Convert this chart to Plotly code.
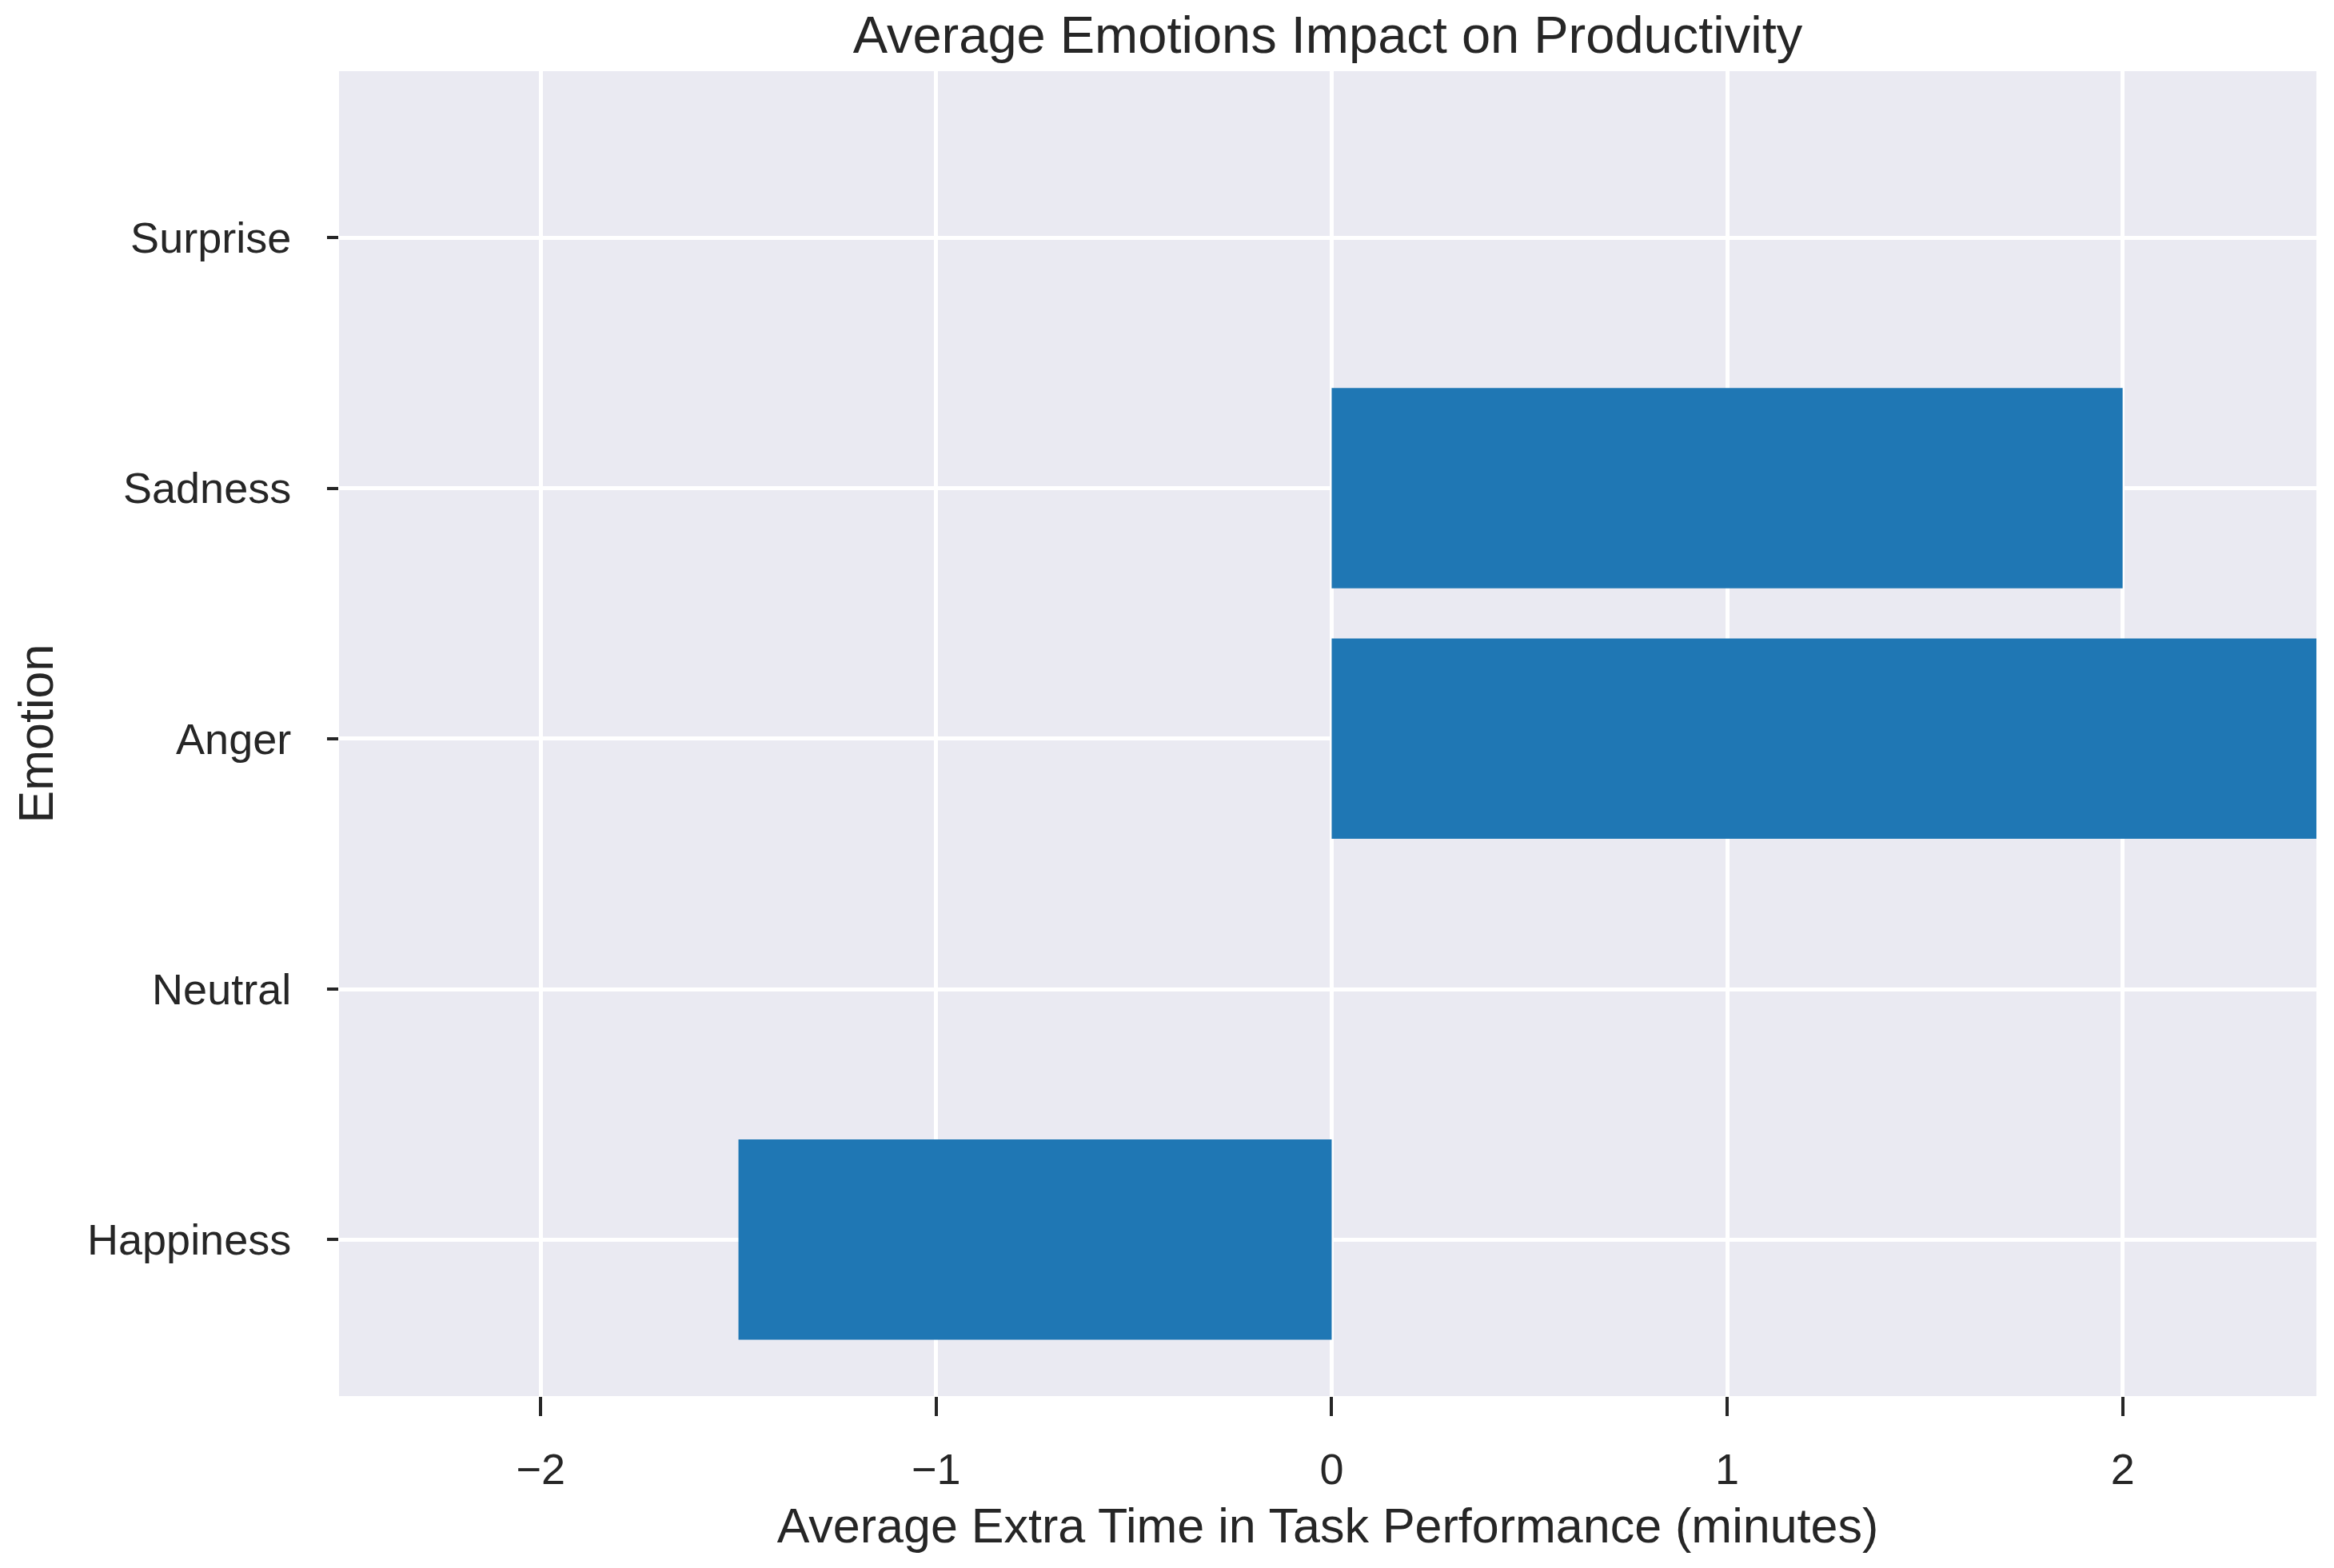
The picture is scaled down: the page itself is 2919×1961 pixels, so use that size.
import plotly.graph_objects as go

emotions = ["Happiness", "Neutral", "Anger", "Sadness", "Surprise"]
extra_time = [-1.5, 0.0, 3.0, 2.0, 0.0]
x_ticks = [-2, -1, 0, 1, 2]

text_color = "#262626"
font_family = "Liberation Sans, Arial, sans-serif"

fig = go.Figure(
    go.Bar(
        x=extra_time,
        y=emotions,
        orientation="h",
        width=0.8,
        marker=dict(color="#1f77b4", line=dict(width=0)),
        cliponaxis=True,
    )
)

fig.update_layout(
    width=2919,
    height=1961,
    margin=dict(l=416, r=30, t=81, b=223, pad=0),
    paper_bgcolor="white",
    plot_bgcolor="#EAEAF2",
    font=dict(family=font_family, color=text_color, size=54),
    showlegend=False,
    title=dict(
        text="Average Emotions Impact on Productivity",
        x=0.5, xref="paper", xanchor="center",
        y=1 - 35 / 1961, yref="container", yanchor="middle",
        font=dict(size=65, color=text_color, family=font_family),
    ),
    bargap=0.2,
)

fig.update_xaxes(
    range=[-2.51, 2.49],
    tickvals=x_ticks,
    ticks="outside",
    ticklen=24,
    tickwidth=4,
    tickcolor=text_color,
    showgrid=True,
    gridcolor="white",
    gridwidth=5,
    zeroline=False,
    showline=False,
    ticklabelstandoff=20,
    tickfont=dict(size=54, color=text_color),
    title=dict(text="Average Extra Time in Task Performance (minutes)",
               font=dict(size=61, color=text_color), standoff=20),
)

fig.update_yaxes(
    type="category",
    categoryorder="array",
    categoryarray=emotions,
    range=[-0.625, 4.665],
    ticks="outside",
    ticklen=14,
    tickwidth=4,
    tickcolor=text_color,
    showgrid=True,
    gridcolor="white",
    gridwidth=5,
    zeroline=False,
    showline=False,
    ticklabelstandoff=34,
    tickfont=dict(size=54, color=text_color),
    title=dict(text="Emotion", font=dict(size=61, color=text_color), standoff=22),
)

fig.write_html("out.html")
